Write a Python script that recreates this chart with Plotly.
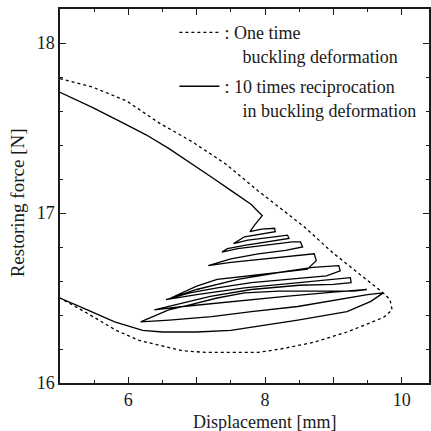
import plotly.graph_objects as go

# One time buckling deformation (dashed)
one_x = [5.00, 5.48, 5.97, 6.45, 6.93, 7.42, 7.90, 8.38, 8.57, 9.01, 9.44, 9.73, 9.83, 9.86,
         9.75, 9.64, 9.20, 8.72, 8.23, 7.90, 7.13, 6.79, 6.16, 5.82, 5.40, 5.00]
one_y = [17.79, 17.74, 17.66, 17.53, 17.42, 17.29, 17.13, 16.98, 16.92, 16.76, 16.62, 16.53, 16.49, 16.43,
         16.39, 16.37, 16.30, 16.24, 16.20, 16.18, 16.18, 16.19, 16.25, 16.31, 16.41, 16.50]

# 10 times reciprocation in buckling deformation (solid)
rec_x = [5.00, 5.48, 5.97, 6.26, 6.59, 6.93, 7.22, 7.51, 7.80, 7.92, 7.96,
         7.85, 7.78,
         7.95, 8.14,
         8.15, 7.95, 7.70, 7.54,
         7.75, 8.05, 8.33,
         8.35, 8.10, 7.70, 7.45, 7.37,
         7.60, 8.00, 8.40, 8.52,
         8.55, 8.30, 7.90, 7.50, 7.17,
         7.50, 8.00, 8.50, 8.72,
         8.75, 8.62, 8.20, 7.70, 7.30, 7.00, 6.62,
         7.00, 7.60, 8.20, 8.70, 9.08,
         9.10, 8.90, 8.40, 7.80, 7.30, 6.90, 6.55,
         7.00, 7.70, 8.50, 9.00, 9.25,
         9.26, 9.00, 8.50, 7.80, 7.20, 6.70, 6.38,
         6.80, 7.50, 8.30, 9.00, 9.49,
         9.30, 8.80, 8.20, 7.70, 7.30, 6.90, 6.59, 6.18,
         6.60, 7.22, 7.80, 8.48, 9.10, 9.50, 9.73,
         9.55, 9.20, 8.80, 8.48, 8.00, 7.50, 7.00, 6.50, 6.21, 5.80, 5.40, 5.00]
rec_y = [17.71, 17.62, 17.52, 17.46, 17.38, 17.29, 17.21, 17.13, 17.05, 17.00, 16.985,
         16.93, 16.89,
         16.905, 16.91,
         16.89, 16.875, 16.86, 16.82,
         16.84, 16.855, 16.87,
         16.85, 16.835, 16.81, 16.79, 16.77,
         16.79, 16.81, 16.83, 16.83,
         16.80, 16.78, 16.76, 16.73, 16.69,
         16.71, 16.73, 16.75, 16.76,
         16.72, 16.67, 16.65, 16.63, 16.61, 16.57, 16.50,
         16.55, 16.61, 16.65, 16.68, 16.69,
         16.66, 16.63, 16.61, 16.59, 16.56, 16.53, 16.49,
         16.52, 16.56, 16.59, 16.61, 16.62,
         16.59, 16.58, 16.575, 16.55, 16.51, 16.46, 16.43,
         16.45, 16.48, 16.51, 16.535, 16.55,
         16.54, 16.54, 16.54, 16.53, 16.50, 16.46, 16.43, 16.36,
         16.37, 16.39, 16.42, 16.45, 16.49, 16.52, 16.53,
         16.48, 16.42, 16.39, 16.37, 16.34, 16.31, 16.30, 16.30, 16.31, 16.36, 16.43, 16.50]

x_tickvals = [6, 7, 8, 9, 10]
x_ticktext = ["6", "", "8", "", "10"]
y_tickvals = [16, 17, 18]
y_ticktext = ["16", "17", "18"]

FONT = "'Liberation Serif', 'Times New Roman', Times, 'DejaVu Serif', serif"
INK = "#1a1a1a"

fig = go.Figure()
fig.add_trace(go.Scatter(
    x=one_x, y=one_y, mode="lines",
    line=dict(color="black", width=1.3, dash="3px,3px"),
    name=": One time<br>\u00a0\u00a0\u00a0\u00a0buckling deformation",
    legendgroup="a"))
fig.add_trace(go.Scatter(
    x=rec_x, y=rec_y, mode="lines",
    line=dict(color="black", width=1.3),
    name=": 10 times reciprocation<br>\u00a0\u00a0\u00a0\u00a0in buckling deformation",
    legendgroup="b"))

axis_common = dict(
    showline=True, linecolor=INK, linewidth=1.5, mirror="allticks",
    ticks="inside", ticklen=6, tickwidth=1.3, tickcolor=INK,
    showgrid=False, zeroline=False,
    tickfont=dict(family=FONT, size=18, color=INK),
)

fig.update_xaxes(
    range=[5, 10.4], tickvals=x_tickvals, ticktext=x_ticktext,
    minor=dict(dtick=0.5, tick0=5, ticks="inside", ticklen=3, tickcolor=INK, tickwidth=1.2),
    **axis_common)
fig.update_yaxes(
    range=[16, 18.2], tickvals=y_tickvals, ticktext=y_ticktext,
    minor=dict(dtick=0.2, tick0=16, ticks="inside", ticklen=3, tickcolor=INK, tickwidth=1.2),
    **axis_common)

fig.add_annotation(text="Displacement [mm]", xref="paper", yref="paper",
                   x=0.553, y=-0.103, xanchor="center", yanchor="middle", showarrow=False,
                   font=dict(family=FONT, size=18, color=INK))
fig.add_annotation(text="Restoring force [N]", xref="paper", yref="paper",
                   x=-0.116, y=0.481, xanchor="center", yanchor="middle", showarrow=False,
                   textangle=-90, font=dict(family=FONT, size=19, color=INK))

fig.update_layout(
    width=431, height=431,
    margin=dict(l=60, r=0, t=9, b=48),
    plot_bgcolor="white", paper_bgcolor="white",
    showlegend=True,
    legend=dict(x=0.31, y=0.986, xanchor="left", yanchor="top",
                bgcolor="rgba(0,0,0,0)", valign="top", tracegroupgap=4,
                itemwidth=40,
                font=dict(family=FONT, size=18, color=INK)),
)

fig.write_html("out.html")
